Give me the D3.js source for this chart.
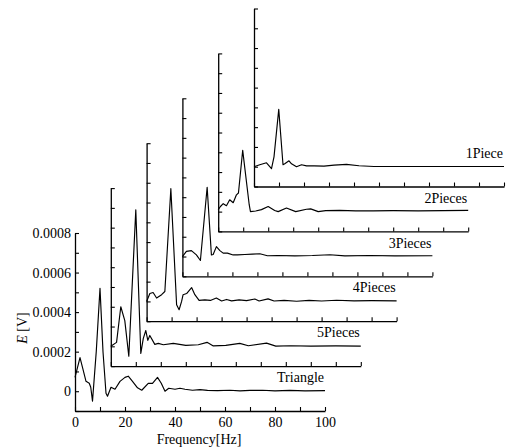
<!DOCTYPE html>
<html><head><meta charset="utf-8">
<script src="https://cdn.jsdelivr.net/npm/d3@7"></script>
<style>
body{margin:0;background:#fff}
svg{display:block}
text{font-family:"Liberation Serif","Times New Roman",serif;fill:#000}
</style>
</head><body>
<svg id="chart" width="510" height="448"></svg>
<script>
// ---- data (frequency in Hz, amplitude in V) ----
const seriesNames = ["Triangle", "5Pieces", "4Pieces", "3Pieces", "2Pieces", "1Piece"];

const triangleFreq = [0, 2, 3.2, 4.4, 5.7, 6.3, 7, 8.5, 10, 11.2, 12.4, 13, 14.4, 16, 18, 20, 21.3, 23, 25, 26.7, 29.3, 31, 33, 34.5, 36, 37.5, 40, 42, 44, 47, 50, 53, 57, 62, 66, 70, 75, 80, 86, 92, 100];
const triangleVal  = [0.00007, 0.00017, 0.00011, 0.00005, 0.00004, 0.00002, -0.00005, 0.0002, 0.00052, 0.0002, -0.00001, -0.000025, 0.00002, 0.00001, 0.00005, 0.00007, 0.000076, 0.00005, 0.000017, 0.000005, 0.00004, 0.00004, 0.00007, 0.00004, 0.0, 0.000015, 0.00001, 0.000015, 0.00001, 0.000005, 0.000008, 0.000004, 0.000003, 0.000005, 0.000002, 0.000004, 0.000005, 0.000002, 0.000004, 0.000002, 0.000003];

const fivePiecesFreq = [0, 2.3, 4, 5.6, 7.2, 10, 12, 13, 14, 14.8, 15.6, 17.6, 19, 21, 25, 30, 35, 38.5, 41, 46, 51.6, 55, 62.3, 66, 72, 80, 90, 100];
const fivePiecesVal  = [0.0, 0.00002, 0.0002, 0.00013, -0.00005, 0.00069, -0.000036, 0.00004, 0.00008, 0.00003, 0.000055, 0.00001, 0.000015, 0.000008, 0.000015, 0.000005, 0.000008, 0.00002, 0.000002, 0.000005, 0.000015, 0.000003, 0.000016, 0.000001, 0.000003, 0.000001, 0.000002, 0.000001];

const fourPiecesFreq = [0, 1.3, 2.6, 4, 6, 7.3, 9.7, 12, 13, 14, 14.6, 16, 18, 19.3, 21, 23.3, 25.5, 27.9, 30, 32, 34, 37, 40, 43.3, 45, 48.6, 51, 55, 60, 65, 70, 76, 83, 90, 100];
const fourPiecesVal  = [0.0, 0.00004, 0.000045, 0.000017, 0.000034, 0.00005, 0.00057, -0.000017, -0.000042, 0.0, 0.000034, 0.00004, 0.00007, 0.000034, 0.000005, 0.000008, 0.000005, 0.000017, 0.000002, 0.00001, 0.000003, 0.000008, 0.000004, 0.000012, 0.000002, 0.000013, 0.000002, 0.000005, 0.000001, 0.000005, 0.000002, 0.000006, 0.000003, 0.000004, 0.000003];

const threePiecesFreq = [0, 1.6, 3.6, 5.6, 7.2, 9.9, 11.6, 12.3, 13.6, 15, 16.3, 18, 20.3, 22, 25, 28, 31, 34, 38, 45, 52, 59, 65, 75, 85, 100];
const threePiecesVal  = [0.0, 0.000026, 0.00003, 0.000008, -0.00002, 0.00035, 0.000008, 0.00001, 0.00005, 0.00003, 0.000017, 0.000017, 0.000008, 0.000008, 0.00001, 0.000012, 0.000014, 0.000004, 0.000005, 0.000003, 0.000005, 0.000009, 0.000003, 0.000005, 0.000003, 0.000004];

const twoPiecesFreq = [0, 0.9, 2, 3.3, 4.6, 6, 7.3, 8.1, 9.8, 12.4, 12.9, 15, 17.3, 20, 22.6, 24, 27.3, 31, 35.3, 37, 40, 43, 48.6, 55, 62, 70, 80, 90, 100];
const twoPiecesVal  = [0.00001, 0.000026, 0.00004, 0.00003, 0.00006, 0.000045, 0.000085, 0.000094, 0.00031, 0.000035, 0.0, 0.000003, 0.00001, 0.000026, 0.000006, 0.0, 0.000018, 0.0, 0.000012, 0.000014, 0.0, 0.000005, 0.000006, 0.000004, 0.000004, 0.000005, 0.000004, 0.000005, 0.000006];

const onePieceFreq = [0, 2.3, 5, 7, 8, 9.9, 11.6, 12.3, 14, 15, 17, 19, 21, 24, 28, 32, 37, 42, 48, 60, 75, 90, 100];
const onePieceVal  = [0.0, 0.00001, 0.00002, -0.00001, 0.00005, 0.00029, 0.00001, 0.000015, 0.00003, 0.000015, 0.0, 0.00001, 0.000004, 0.000004, 0.000003, 0.000008, 0.000012, 0.000005, 0.000001, 0.000001, 0.000001, 0.000001, 0.000001];

const xTickValues = [0, 10, 20, 30, 40, 50, 60, 70, 80, 90, 100];
const xTickLabels = [0, 20, 40, 60, 80, 100];
const yTickValues = [-0.0001, 0, 0.0001, 0.0002, 0.0003, 0.0004, 0.0005, 0.0006, 0.0007, 0.0008];
const yTickLabels = [0, 0.0002, 0.0004, 0.0006, 0.0008];

const seriesFreqs = [triangleFreq, fivePiecesFreq, fourPiecesFreq, threePiecesFreq, twoPiecesFreq, onePieceFreq];
const seriesVals  = [triangleVal, fivePiecesVal, fourPiecesVal, threePiecesVal, twoPiecesVal, onePieceVal];

// ---- layout ----
const panelW = 250, panelH = 178;
const frontX = 75, frontTop = 233;
const stepX = 35.8, stepY = -44.9;

const svg = d3.select("#chart");
svg.append("rect").attr("width", 510).attr("height", 448).attr("fill", "#fff");

const x = d3.scaleLinear().domain([0, 100]).range([0, panelW]);
const y = d3.scaleLinear().domain([-0.0001, 0.0008]).range([panelH, 0]);

const line = d3.line().x(d => x(d[0])).y(d => y(d[1])).curve(d3.curveLinear);

for (let i = seriesNames.length - 1; i >= 0; i--) {
  const g = svg.append("g")
    .attr("transform", `translate(${frontX + i * stepX},${frontTop + i * stepY})`);
  const isFront = i === 0;

  const xAxis = d3.axisBottom(x).tickValues(xTickValues).tickSizeInner(-4).tickSizeOuter(0).tickPadding(6)
    .tickFormat(d => (isFront && xTickLabels.includes(d)) ? String(d) : "");
  const gx = g.append("g").attr("transform", `translate(0,${panelH})`).call(xAxis);

  const yAxis = d3.axisLeft(y).tickValues(yTickValues).tickSizeInner(-4).tickSizeOuter(0).tickPadding(4)
    .tickFormat(d => (isFront && yTickLabels.some(v => Math.abs(v - d) < 1e-9)) ? (Math.abs(d) < 1e-12 ? "0" : d.toFixed(4)) : "");
  const gy = g.append("g").call(yAxis);

  [gx, gy].forEach(a => {
    a.selectAll("path.domain").attr("stroke", "#000").attr("stroke-width", 1.3);
    a.selectAll(".tick line").attr("stroke", "#000").attr("stroke-width", 1.1);
    a.selectAll(".tick text").attr("font-size", 14).attr("font-family", '"Liberation Serif", serif').attr("fill", "#000");
  });

  const pts = seriesFreqs[i].map((f, k) => [f, seriesVals[i][k]]);
  g.append("path").datum(pts)
    .attr("fill", "none").attr("stroke", "#000").attr("stroke-width", 1.15)
    .attr("stroke-linejoin", "round")
    .attr("d", line);

  g.append("text")
    .attr("x", x(100) - 1).attr("y", y(0) - 9)
    .attr("text-anchor", "end").attr("font-size", 14)
    .text(seriesNames[i]);
}

// axis titles
svg.append("text")
  .attr("x", 199).attr("y", 444)
  .attr("text-anchor", "middle").attr("font-size", 14)
  .text("Frequency[Hz]");

const yt = svg.append("text")
  .attr("transform", "translate(27,328) rotate(-90)")
  .attr("text-anchor", "middle").attr("font-size", 14);
yt.append("tspan").attr("font-style", "italic").text("E");
yt.append("tspan").text(" [V]");
</script>
</body></html>
